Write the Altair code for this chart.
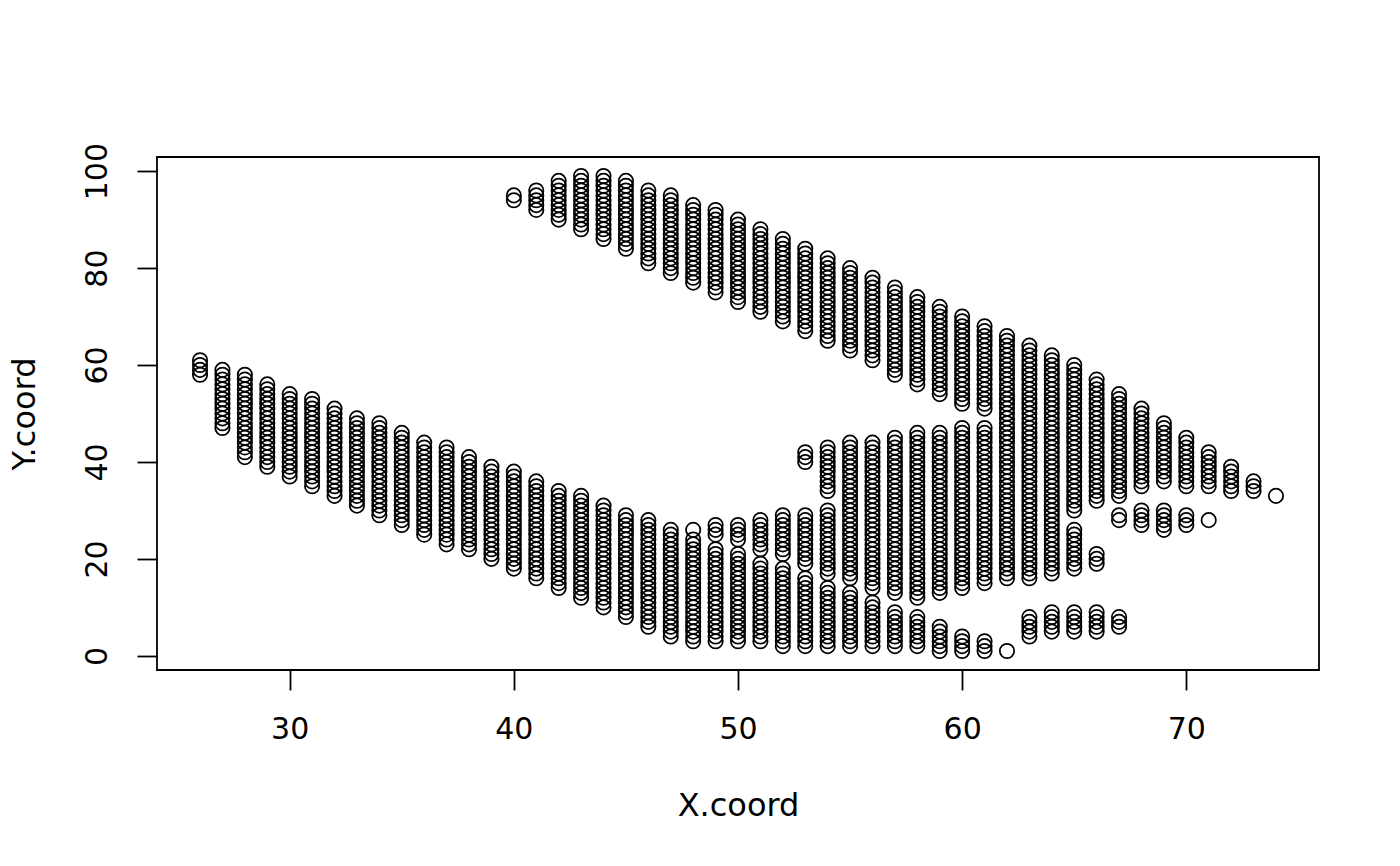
import altair as alt
import pandas as pd

# Each run: column x, highest y, lowest y of consecutive integer readings
run_x = [26,27,28,29,30,31,32,33,34,35,36,37,38,39,
         40,40,41,41,42,42,43,43,44,44,45,45,46,46,47,47,
         48,48,48,49,49,49,50,50,50,51,51,51,52,52,52,
         53,53,53,53,54,54,54,54,55,55,55,56,56,56,57,57,57,
         58,58,58,59,59,59,60,60,60,61,61,61,
         62,62,63,63,64,64,65,65,65,66,66,66,
         67,67,67,68,68,69,69,70,70,71,71,72,73,74]
run_top = [61,59,58,56,54,53,51,49,48,46,44,43,41,39,
           95,38,96,36,98,34,99,33,99,31,98,29,96,28,95,26,
           93,26,24,92,27,22,90,27,21,88,28,19,86,29,18,
           84,42,29,16,82,43,30,14,80,44,13,78,44,11,76,45,9,
           74,46,8,72,46,6,70,47,4,68,47,3,
           66,1,64,8,62,9,60,26,9,57,21,9,
           54,29,8,51,30,48,30,45,29,42,28,39,36,33]
run_bottom = [58,47,41,39,37,35,33,31,29,27,25,23,22,20,
              94,18,92,16,90,14,88,12,86,10,84,8,81,6,79,4,
              77,26,3,75,25,3,73,24,3,71,22,3,69,21,2,
              67,40,19,2,65,34,17,2,63,16,2,61,14,2,58,13,2,
              56,12,2,54,13,1,52,14,1,51,15,1,
              16,1,16,4,17,5,30,18,5,32,19,5,
              33,28,6,35,27,36,26,35,27,35,28,34,34,33]
x_ticks = [30,40,50,60,70]
y_ticks = [0,20,40,60,80,100]

rows = [{"xc": x, "yc": y}
        for x, t, b in zip(run_x, run_top, run_bottom)
        for y in range(b, t + 1)]
df = pd.DataFrame(rows)

FONT = "DejaVu Sans"
chart = alt.Chart(df).mark_point(
    shape="circle", filled=False, size=206, stroke="black", strokeWidth=1.75, opacity=1
).encode(
    x=alt.X("xc:Q", title="X.coord",
            scale=alt.Scale(domain=[24.08, 75.92], nice=False, zero=False),
            axis=alt.Axis(values=x_ticks, format="d", grid=False, domain=False,
                          tickSize=20, tickColor="black", tickWidth=1.8,
                          labelColor="black", labelFont=FONT, labelFontSize=30,
                          labelPadding=24, labelFlush=False,
                          titleColor="black", titleFont=FONT, titleFontSize=32,
                          titleFontWeight="normal", titlePadding=46)),
    y=alt.Y("yc:Q", title="Y.coord",
            scale=alt.Scale(domain=[-2.92, 102.92], nice=False, zero=False),
            axis=alt.Axis(values=y_ticks, format="d", grid=False, domain=False,
                          tickSize=20, tickColor="black", tickWidth=1.8,
                          labelColor="black", labelFont=FONT, labelFontSize=30,
                          labelAngle=270, labelAlign="center", labelBaseline="bottom",
                          labelPadding=25, labelFlush=False,
                          titleColor="black", titleFont=FONT, titleFontSize=32,
                          titleFontWeight="normal", titlePadding=41)),
).properties(
    width=1162, height=513,
    autosize=alt.AutoSizeParams(type="none"),
    padding={"left": 149, "top": 149, "right": 70, "bottom": 180},
    background="white",
).configure_view(stroke="black", strokeWidth=1.8)

chart.save("out.html", embed_options={"renderer": "svg", "actions": False})
